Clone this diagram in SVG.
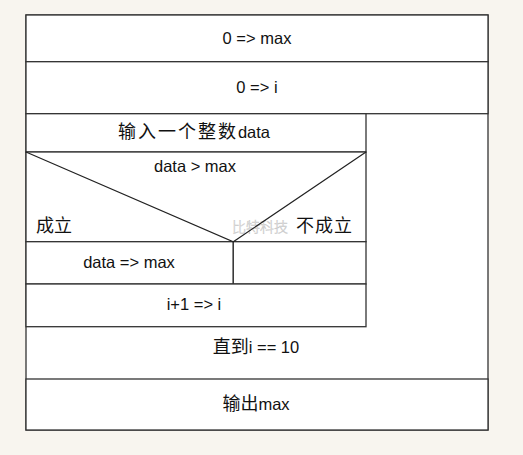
<svg xmlns="http://www.w3.org/2000/svg" width="523" height="455" viewBox="0 0 523 455">
<style>
.box{fill:#ffffff;stroke:#333333;stroke-width:1.3}
.ln{fill:none;stroke:#222222;stroke-width:1.2}
text{font-family:"Liberation Sans",Arial,"Noto Sans CJK SC",sans-serif;font-size:16.5px;fill:#111111}
.cjk{font-family:"Noto Sans CJK SC",sans-serif;font-size:18px;font-weight:400}
.wm{font-family:"Noto Sans CJK SC",sans-serif;font-size:14px;font-weight:300;fill:#ffffff;stroke:#c8c8c8;stroke-width:0.5}
</style>
<rect x="0" y="0" width="523" height="455" fill="#f8f5ef"/>
<g id="outer"><rect class="box" x="26" y="15" width="462" height="415"/></g>
<g id="n1"><rect class="box" x="26" y="15" width="462" height="46.7"/><text x="257" y="44" text-anchor="middle">0 =&gt; max</text></g>
<g id="n2"><rect class="box" x="26" y="61.7" width="462" height="52"/><text x="257" y="93" text-anchor="middle">0 =&gt; i</text></g>
<g id="loop"><text x="256" y="353" text-anchor="middle"><tspan class="cjk">直到</tspan>i == 10</text></g>
<g id="n3"><rect class="box" x="26" y="113.7" width="340" height="38.3"/><text x="194" y="138" text-anchor="middle"><tspan class="cjk" letter-spacing="2">输入一个整数</tspan>data</text></g>
<g id="cond"><rect class="box" x="26" y="152" width="340" height="89.7"/><text x="195" y="172" text-anchor="middle">data &gt; max</text>
<text x="36" y="232" class="cjk">成立</text><text x="353" y="232" class="cjk" text-anchor="end" letter-spacing="1">不成立</text>
<text x="232" y="232" class="wm">比特科技</text></g>
<g id="yes"><rect class="box" x="26" y="241.7" width="207.3" height="42.3"/><text x="129" y="268" text-anchor="middle">data =&gt; max</text></g>
<g id="no"><rect class="box" x="233.3" y="241.7" width="132.7" height="42.3"/></g>
<g id="n4"><rect class="box" x="26" y="284" width="340" height="42.7"/><text x="194" y="310" text-anchor="middle">i+1 =&gt; i</text></g>
<g id="n5"><rect class="box" x="26" y="379" width="462" height="51"/><text x="256" y="410" text-anchor="middle"><tspan class="cjk">输出</tspan>max</text></g>
<g id="connectors"><path class="ln" d="M26 152 L233.3 241.7 L366 152"/></g>
</svg>
